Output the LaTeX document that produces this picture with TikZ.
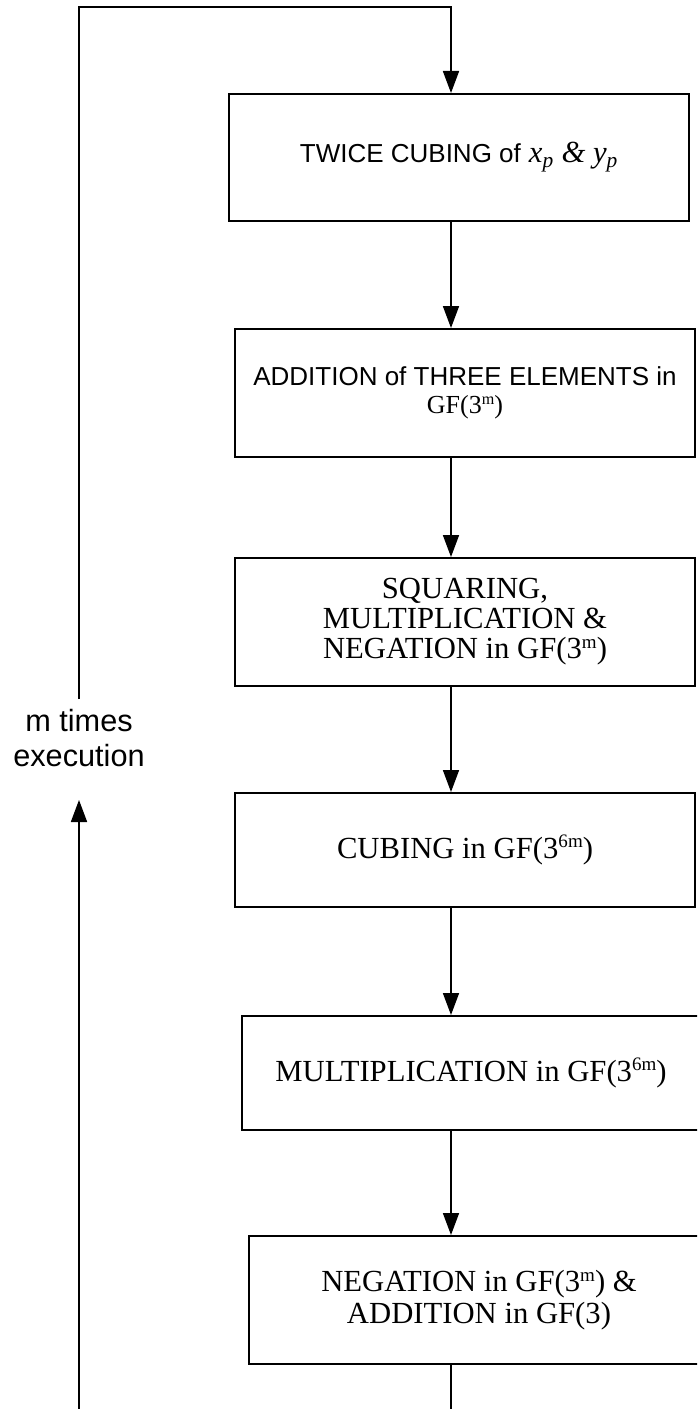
\documentclass[tikz,border=0pt]{standalone}
\usepackage{graphicx}
\usepackage{fontspec}
\setmainfont{Liberation Serif}
\setsansfont{Liberation Sans}
\usetikzlibrary{arrows.meta}
% small raised exponent, as in GF(3^m)
\newcommand{\expo}[1]{\raisebox{0.33em}{\scalebox{0.62}{#1}}}
\begin{document}
\begin{tikzpicture}[x=0.75pt,y=-0.75pt,
  stage/.style={draw, line width=1.5pt, rectangle, inner sep=0pt, align=center},
  flow/.style={line width=1.3pt, -{Triangle[length=16.5pt,width=12pt]}},
  wire/.style={line width=1.3pt}]
\useasboundingbox (0,0) rectangle (697,1409);
\clip (0,0) rectangle (697,1409);

% processing stages, top to bottom
\node[stage, minimum width=345pt, minimum height=95.25pt] (b1) at (459,157.5)
  {{\sffamily\fontsize{19.5pt}{20pt}\selectfont TWICE CUBING of}\hspace{0.6em}{\fontsize{23pt}{24pt}\selectfont\itshape x\textsubscript{p} \& y\textsubscript{p}}};
\node[stage, minimum width=345pt, minimum height=96pt,
  font=\fontsize{19.5pt}{20.5pt}\selectfont\sffamily] (b2) at (465,393)
  {ADDITION of THREE ELEMENTS in\\ \rmfamily GF(3\expo{m})};
\node[stage, minimum width=345pt, minimum height=96pt,
  font=\fontsize{23pt}{22.5pt}\selectfont] (b3) at (465,622)
  {SQUARING,\\ MULTIPLICATION \&\\ NEGATION in GF(3\expo{m})};
\node[stage, minimum width=345pt, minimum height=85.5pt,
  font=\fontsize{23pt}{24pt}\selectfont] (b4) at (465,850)
  {CUBING in GF(3\expo{6m})};
\node[stage, minimum width=343.5pt, minimum height=85.5pt,
  font=\fontsize{23pt}{24pt}\selectfont] (b5) at (471,1073)
  {MULTIPLICATION in GF(3\expo{6m})};
\node[stage, minimum width=345pt, minimum height=96pt,
  font=\fontsize{23pt}{23.5pt}\selectfont] (b6) at (479,1300)
  {NEGATION in GF(3\expo{m}) \&\\ ADDITION in GF(3)};

% loop label
\node[align=center, inner sep=0pt, font=\sffamily\fontsize{23pt}{26.25pt}\selectfont] (lbl) at (79,738)
  {m times\\ execution};

% routing points
\coordinate (mx) at (451,0);
\coordinate (tl) at (79,7);
\coordinate (tr) at (451,7);
\coordinate (lbltop) at (79,699);
\coordinate (lblbot) at (79,800);
\coordinate (bl) at (79,1420);
\coordinate (br) at (451,1420);

% connectors
\draw[flow] (lbltop) -- (tl) -- (tr) -- (tr |- b1.north);
\draw[flow] (b1.south -| mx) -- (b2.north -| mx);
\draw[flow] (b2.south -| mx) -- (b3.north -| mx);
\draw[flow] (b3.south -| mx) -- (b4.north -| mx);
\draw[flow] (b4.south -| mx) -- (b5.north -| mx);
\draw[flow] (b5.south -| mx) -- (b6.north -| mx);
\draw[wire] (b6.south -| mx) -- (br);
\draw[flow] (bl) -- (lblbot);
\end{tikzpicture}
\end{document}
